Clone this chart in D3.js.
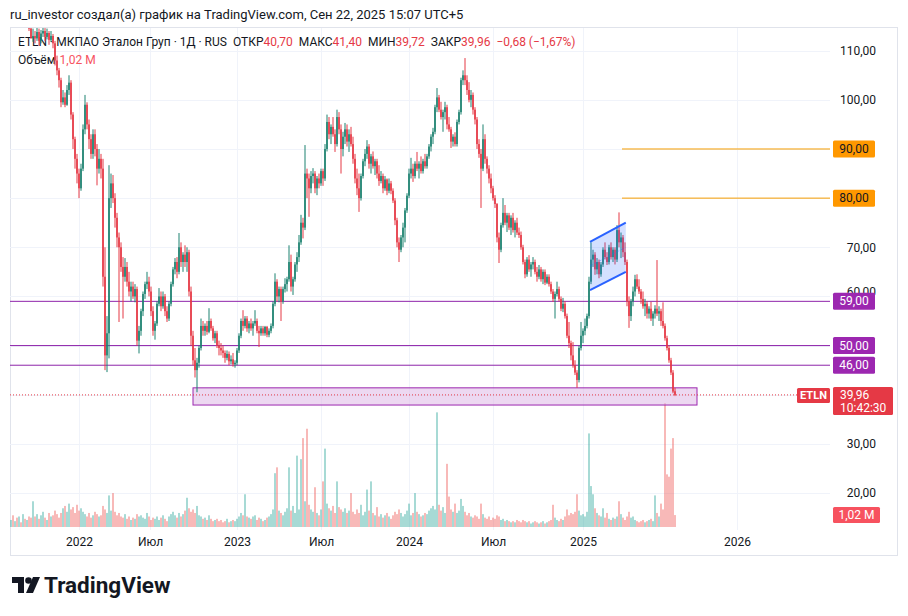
<!DOCTYPE html>
<html>
<head>
<meta charset="utf-8">
<script src="https://cdn.jsdelivr.net/npm/d3@7"></script>
<style>
body { margin: 0; background: #fff; }
text { font-family: Roboto, "Noto Sans", sans-serif; }
</style>
</head>
<body>
<script>
// one candle per ~3 sessions: [open, high, low, close]
const ohlc = [
  [118,120,116.5,119],[119,121,117,117.5],[117.5,119.5,116,118.5],[118.5,120,117,117.2],[117.2,118.5,115.5,118],[118,119,116,116.5],
  [116.5,118,115,117.5],[117.5,118,115.2,115.8],[115.8,117.5,114.8,117],[117,117.5,114,114.5],[114.5,116,112.5,112.5],
  [112.5,114.5,111.8,113],[113,114,111.5,112.5],[112.5,115,112,113.8],[113.8,114.5,111,112],[112,114.2,111.5,113.5],
  [113.5,115,112.8,114],[114,114.6,112,112.8],[112.8,114.5,112.3,113.6],[113.6,114,111.2,112.2],[112.2,114,111.8,113],
  [113,113.4,110.5,111.5],[111.5,112,107,108],[108,109,105,106],[106,106.5,102.5,104],[104,104.5,98.5,99.5],
  [99.5,102,99,100.5],[100.5,101.5,98.5,99],[99,103,98.8,102],[102,105,101,103.5],[103.5,104,96,97],
  [97,97.5,90,92],[92,92.5,86,88],[88,89,83,85],[85,86,80,82],[82,87,81.5,86],
  [86,95,85.5,94],[94,101,93,99],[99,99.5,94,95],[95,96,90,92],[92,93,88,89],
  [89,94,88,93],[93,94,88.5,90],[90,91,82.6,86],[86,90,85,88],[88,89,84,86],
  [86,88,62,64],[64,70,45,48],[48,56,44.6,52.5],[52.5,86.7,47.4,80],[80,85,78,83],
  [83,84.7,79,80],[80,81,74,76],[76,77,70,72],[72,73,54.8,70],[70,71,65,66],
  [66,68,55.5,64],[64,67.8,63,66],[66,67,62,63],[63,65,60,61],[61,63,59,62],
  [62,63,59.5,60],[60,62.5,58.8,61.5],[61.5,62,50,51],[51,54,48.4,53],[53,57.5,52,57],
  [57,61,56,60.5],[60.5,63,59.5,62.5],[62.5,65,61.5,63],[63,64,60,61],[61,62,56,57],
  [57,58,52,53],[53,55,51.2,54.5],[54.5,59,54,58.5],[58.5,61.7,58,60],[60,61,57,58],
  [58,61,57.5,60],[60,60.5,56,57],[57,58,54.8,55.5],[55.5,59,55,58.5],[58.5,63,58,62.5],
  [62.5,66,62,65.5],[65.5,67.8,64.5,67],[67,68,63.7,65],[65,72.9,64.5,70],[70,71,66,67],
  [67,69,65,68.5],[68.5,70.4,66,67],[67,70,65,69],[69,69.5,60,61],[61,62,50,52],
  [52,53,46,47],[47,49.5,43.5,45],[45,47.5,40.5,46.5],[46.5,50,45.5,49.5],[49.5,55.5,49,54],
  [54,55,52,53],[53,54.5,52,54],[54,55,52.2,52.8],[52.8,57.6,52.5,55],[55,55.5,53,53.5],
  [53.5,54,51,51.5],[51.5,53,50.5,52.5],[52.5,53,49.5,50],[50,51,48,49.5],[49.5,50.5,48,49],
  [49,50,47.5,48.5],[48.5,49,46.5,47.5],[47.5,49,47,48.3],[48.3,48.8,46,46.8],[46.8,48,46.2,47.2],
  [47.2,48.5,45.7,46.2],[46.2,47,45.5,46.5],[46.5,49.5,46,49],[49,52.5,48.5,52],[52,55.5,51.5,55],
  [55,57.2,53,54],[54,56,53.5,55.5],[55.5,56,52.8,53.5],[53.5,55,52.5,54.5],[54.5,55.5,53,53.5],
  [53.5,55,52,54.5],[54.5,57.2,54,55],[55,55.5,52.5,53],[53,54,49.7,52.5],[52.5,54,52,53.5],
  [53.5,54,52,52.5],[52.5,54,52,53.8],[53.8,54,51.7,52.2],[52.2,53.5,51.7,53],[53,54.5,52.5,54],
  [54,59,53.5,58.5],[58.5,64.7,58,63],[63,63.5,59,60],[60,62,58.8,61.5],[61.5,62,55,59],
  [59,62,58.5,61.5],[61.5,63.7,60.8,62.5],[62.5,64,61,63.5],[63.5,70.4,63,67],[67,68.5,61,62],
  [62,64,60.3,63.5],[63.5,67,63,66.5],[66.5,69,65,68],[68,72.5,67,71],[71,76.6,70.5,75],
  [75,76,71.8,74],[74,90.8,73.5,85],[85,86,80,84],[84,85,76.2,82],[82,85.5,81,84.5],
  [84.5,86.1,83,85],[85,85.5,81,82],[82,84.5,80.6,84],[84,85,82,83],[83,86,82.5,85.5],
  [85.5,86,82.5,84],[84,91,83.5,90],[90,97,89.5,95.5],[95.5,96.5,92,93],[93,95,91,94.5],
  [94.5,96.5,92.5,93],[93,94,89.4,91],[91,98,90.5,96.5],[96.5,97.5,93,94],[94,95,85,90],
  [90,93.5,88.5,92.5],[92.5,95.3,91,94],[94,95,90.5,91.5],[91.5,94,89.4,93],[93,94.5,90.5,91],
  [91,92.5,87,88],[88,89,83,84],[84,86,80.6,82],[82,85,77.2,80],[80,85,79.5,84.5],
  [84.5,88,84,87.5],[87.5,90,86.5,89],[89,91.8,88,90.5],[90.5,91,86,87],[87,89,85,88.5],
  [88.5,89.5,86,86.5],[86.5,88,84.7,87.5],[87.5,88,84,85],[85,86.7,82.5,83.5],[83.5,85.5,83,84.5],
  [84.5,85,81,82],[82,84.5,81.5,83.8],[83.8,84,80.6,81.5],[81.5,84,81,83],[83,83.5,80.8,81.5],
  [81.5,82,79,79.5],[79.5,80,74.5,75.5],[75.5,76,70,71],[71,72,67,69.5],[69.5,72.5,69,72],
  [72,75,70,74],[74,78,71,77.5],[77.5,81,77,80.5],[80.5,86,80,85],[85,88.2,84,86],
  [86,87,83.3,84.5],[84.5,87.5,84,87],[87,89.4,85.5,86],[86,87.5,84,87],[87,88.5,85,85.5],
  [85.5,88,85,87.5],[87.5,89,86,86.5],[86.5,89,86,88.5],[88.5,91,88,90.5],[90.5,93,89.5,92.5],
  [92.5,94.3,91,93.5],[93.5,99,93,98.5],[98.5,102.4,97.5,100.5],[100.5,101,97.5,98],[98,99.6,96,96.5],
  [96.5,98,93.5,97.5],[97.5,99.6,96,98.5],[98.5,99,94,95],[95,96.5,93.5,94],[94,94.5,90.2,91.5],
  [91.5,93,90.5,92.5],[92.5,93.4,90.5,91],[91,96,90.5,95.5],[95.5,98,95,97.5],[97.5,104.5,97,104],
  [104,106,103,105],[105,108.5,103,104],[104,105,101,102],[102,103.6,99.5,100],[100,102,98.5,101],
  [101,101.5,97,98],[98,98.5,95,96],[96,96.5,90,91],[91,92,88.2,89],[89,90,78,86],
  [86,95,85.5,92],[92,93,87,88],[88,88.5,85,86],[86,86.7,83,84],[84,85,81,82],
  [82,82.5,79.5,80],[80,80.6,78,78.8],[78.8,79,71,72],[72,73,66.8,69.5],[69.5,75,69,74.5],
  [74.5,80,74,77],[77,78.6,74.5,75],[75,77,73.1,76.5],[76.5,77,73.5,74],[74,76.5,72.5,76],
  [76,77,73,73.5],[73.5,75.5,72,75],[75,76,72.5,73],[73,74,71.9,72.5],[72.5,73.2,69.5,70],
  [70,70.5,66.5,67],[67,67.5,63.7,64.5],[64.5,68,64,67.5],[67.5,68.4,65,65.5],[65.5,67,64,66.5],
  [66.5,68,65.5,67],[67,67.5,64.5,65],[65,66,63,64],[64,66.4,63.5,65.5],[65.5,66,63,63.5],
  [63.5,65.5,62.5,65],[65,65.5,62.3,62.8],[62.8,64.5,62.5,64],[64,64.5,62,62.5],[62.5,63,60.5,61],
  [61,61.5,58.9,59.5],[59.5,61,55.5,60.5],[60.5,63,60,61.5],[61.5,62,59,59.5],[59.5,60,57,57.5],
  [57.5,59.7,56.8,58.5],[58.5,59,55.5,56],[56,56.5,51.5,52],[52,54.8,49.5,50.5],[50.5,51,47,48],
  [48,50.7,45.5,46],[46,47,44,44.5],[44.5,45,41.4,43],[43,50,42.5,49.5],[49.5,54.8,49,52],
  [52,53.5,50.5,53],[53,55.5,52.1,54],[54,56.5,53.5,56],[56,64,55.5,63],[63,71,62.5,67.5],
  [67.5,69.5,66,68.5],[68.5,69,64.4,65.5],[65.5,67.8,64.5,67],[67,67.5,63.7,64.5],[64.5,67,64,66.5],
  [66.5,70,66,69.5],[69.5,71,67.5,68],[68,69,66.4,67],[67,70.5,66.5,70],[70,71,67.5,68],
  [68,70,67,69.5],[69.5,70,66.5,67.5],[67.5,74.5,67,73.5],[73.5,77.1,70,71],[71,73,67.8,72],
  [72,72.5,68,69],[69,71,66.4,67],[67,67.5,58,59],[59,60,53.6,56],[56,59.5,55,59],
  [59,62,58,61],[61,64.4,60,63.5],[63.5,64.5,61.5,62],[62,63.5,60.5,61],[61,61.5,58.5,59.5],
  [59.5,61,57.5,58],[58,59.5,56,58.5],[58.5,59,55.5,56.5],[56.5,58,55.5,57.5],[57.5,58.9,55,55.5],
  [55.5,57,54,56.5],[56.5,58.2,55.5,57.5],[57.5,67.4,56,56.5],[56.5,58,55,57],[57,57.5,54,55],
  [55,58.8,53.5,54],[54,54.5,51,51.5],[51.5,52,49,49.5],[49.5,50,46.5,47],[47,47.5,44,44.5],
  [44.5,45,40.3,40.64],[40.70,41.40,39.72,39.96]
];

// volume, millions, same bars
const volume = [
  0.6,1.0,0.5,0.8,0.9,0.4,1.1,0.7,0.6,0.9,0.8,
  2.2,0.9,1.1,0.7,1.0,1.3,0.8,0.6,1.2,0.9,1.0,1.4,1.1,0.8,1.2,1.6,1.8,1.3,2.0,1.5,
  1.7,1.2,1.9,1.4,1.6,1.3,1.1,0.9,1.2,0.8,1.0,1.3,1.1,0.9,1.0,1.8,1.5,1.2,2.7,1.4,
  2.9,1.3,1.0,1.2,0.9,0.8,1.1,0.7,0.9,0.6,0.8,0.7,1.1,0.9,1.0,0.8,0.7,1.2,0.9,0.6,
  0.8,0.7,0.9,0.6,0.8,1.0,0.7,0.5,0.9,1.1,1.3,1.0,0.8,1.2,0.9,1.1,1.4,2.5,1.6,1.3,
  1.5,1.2,1.8,1.0,0.9,0.7,0.8,0.6,1.0,0.7,0.5,0.6,0.7,0.5,0.6,0.4,0.5,0.7,0.4,0.5,
  0.6,0.5,0.7,0.9,1.2,1.0,2.8,0.9,0.8,0.7,0.9,1.0,0.6,0.8,0.7,0.5,0.6,0.8,0.9,1.1,
  1.5,4.6,5.1,1.4,1.2,1.0,1.3,1.6,5.1,1.4,1.8,1.2,6.1,1.5,5.8,7.6,2.2,8.4,1.9,1.5,
  1.3,3.4,1.2,1.0,1.5,3.9,6.7,2.0,1.6,1.4,1.8,1.2,3.9,1.7,1.5,1.3,1.6,1.2,1.4,2.9,
  1.3,1.1,1.5,1.2,1.9,1.0,1.3,3.2,1.4,3.9,1.2,1.0,1.7,0.9,1.1,0.8,1.0,1.2,0.9,0.7,
  1.0,1.3,1.1,1.5,1.2,0.9,1.1,1.4,2.0,1.0,1.2,2.9,1.3,1.1,0.9,1.0,1.2,1.1,1.4,1.6,
  1.8,1.5,9.8,1.9,1.4,1.7,1.2,5.4,2.6,1.5,1.3,2.0,1.2,1.4,2.4,1.8,1.3,1.0,1.2,0.9,
  0.8,1.0,0.9,0.7,2.0,1.1,0.8,0.7,0.9,0.6,0.8,0.7,1.0,0.9,0.6,0.7,0.5,0.6,0.5,0.4,
  0.5,0.4,0.6,0.5,0.4,0.6,0.5,0.4,0.5,0.3,0.4,0.5,0.4,0.3,0.4,0.5,0.3,0.4,0.5,0.6,
  1.9,0.8,0.6,0.5,0.7,0.6,0.9,1.5,1.0,1.2,1.1,1.3,2.8,1.4,1.0,1.1,0.9,1.3,8.0,3.5,
  2.8,1.6,1.2,1.0,0.9,1.6,0.8,1.2,0.7,0.6,0.8,0.7,0.9,2.2,1.1,0.8,0.6,0.9,1.3,0.8,
  0.9,0.6,0.5,0.4,0.5,0.6,0.4,0.5,0.6,0.7,0.5,2.7,1.2,0.9,2.0,1.5,10.6,4.5,4.3,6.7,7.6,1.02
];

// time axis: bar index where each label sits
const timeTicks = [34, 69.5, 113, 155, 199, 241, 286, 363];
const timeLabels = ["2022", "Июл", "2023", "Июл", "2024", "Июл", "2025", "2026"];
const priceTicks = [20, 30, 40, 50, 60, 70, 80, 90, 100, 110];

// drawings
const supportLevels = [59, 50, 46];
const targetLevels = [90, 80];
const targetStartBar = 305.5;
const zonePrices = [37.9, 41.4];
const zoneBars = [91, 343];
const channelBars = [289.5, 307.4];
const channelUpper = [71.1, 75.0];
const channelLower = [61.3, 65.0];

const lastBar = { open: "40,70", high: "41,40", low: "39,72", close: 39.96, change: "−0,68 (−1,67%)", vol: "1,02 M", timer: "10:42:30" };

function main(){
    const W = 908, H = 616;
    const upColor = "#1d8270", downColor = "#e53945";
    const textColor = "#131722";
    const fmt = d => d3.format(".2f")(d).replace(".", ",");

    const svg = d3.select("body").append("svg")
        .attr("width", W)
        .attr("height", H);

    svg.append("rect").attr("width", W).attr("height", H).attr("fill", "#fff");

    // header
    svg.append("text")
        .attr("x", 10).attr("y", 19)
        .attr("font-size", "13px")
        .attr("fill", textColor)
        .text("ru_investor создал(а) график на TradingView.com, Сен 22, 2025 15:07 UTC+5");

    // frame
    svg.append("rect")
        .attr("x", 10.5).attr("y", 27.5)
        .attr("width", 887).attr("height", 528)
        .attr("fill", "none")
        .attr("stroke", "#e0e3eb");

    const x = d3.scaleLinear().domain([0, ohlc.length - 1]).range([11, 675]);
    const y = d3.scaleLinear().domain([20, 110]).range([493, 50.7]);
    const yv = d3.scaleLinear().domain([0, d3.max(volume)]).range([527, 403]);

    svg.append("clipPath").attr("id", "pane")
        .append("rect").attr("x", 10).attr("y", 28).attr("width", 820).attr("height", 502);

    // grid
    const grid = svg.append("g").attr("clip-path", "url(#pane)");
    grid.selectAll(".hg").data(priceTicks).join("line")
        .attr("x1", 10).attr("x2", 830)
        .attr("y1", d => Math.round(y(d)) + 0.5).attr("y2", d => Math.round(y(d)) + 0.5)
        .attr("stroke", "#f0f3fa");
    grid.selectAll(".vg").data(timeTicks).join("line")
        .attr("x1", d => Math.round(x(d)) + 0.5).attr("x2", d => Math.round(x(d)) + 0.5)
        .attr("y1", 28).attr("y2", 530)
        .attr("stroke", "#f0f3fa");

    // legend
    const leg = svg.append("text")
        .attr("x", 18).attr("y", 46)
        .attr("font-size", "12px")
        .attr("fill", textColor);
    leg.append("tspan").text("ETLN · МКПАО Эталон Груп · 1Д · RUS");
    const pairs = [["ОТКР", lastBar.open], ["МАКС", lastBar.high], ["МИН", lastBar.low], ["ЗАКР", fmt(lastBar.close)]];
    pairs.forEach(p => {
        leg.append("tspan").attr("dx", 6).text(p[0]);
        leg.append("tspan").attr("fill", downColor).text(p[1]);
    });
    leg.append("tspan").attr("dx", 6).attr("fill", downColor).text(lastBar.change);

    const vleg = svg.append("text")
        .attr("x", 18).attr("y", 64)
        .attr("font-size", "12px")
        .attr("fill", textColor);
    vleg.append("tspan").text("Объём");
    vleg.append("tspan").attr("dx", 4).attr("fill", "#f7525f").text(lastBar.vol);

    const pane = svg.append("g").attr("clip-path", "url(#pane)");

    // volume
    pane.append("g").selectAll("rect").data(ohlc).join("rect")
        .attr("x", (d, i) => x(i) - 0.8)
        .attr("width", 1.6)
        .attr("y", (d, i) => yv(volume[i]))
        .attr("height", (d, i) => 527 - yv(volume[i]))
        .attr("fill", d => d[3] >= d[0] ? "#26a69a" : "#ef5350")
        .attr("opacity", 0.5);

    // support zone
    pane.append("rect")
        .attr("x", x(zoneBars[0])).attr("width", x(zoneBars[1]) - x(zoneBars[0]))
        .attr("y", y(zonePrices[1])).attr("height", y(zonePrices[0]) - y(zonePrices[1]))
        .attr("fill", "rgba(225,190,231,0.6)")
        .attr("stroke", "#9c27b0").attr("stroke-width", 1);

    // horizontal levels
    pane.selectAll(".sup").data(supportLevels).join("line")
        .attr("x1", 10).attr("x2", 833)
        .attr("y1", d => y(d)).attr("y2", d => y(d))
        .attr("stroke", "#8e24aa").attr("stroke-width", 1);
    pane.selectAll(".tgt").data(targetLevels).join("line")
        .attr("x1", x(targetStartBar)).attr("x2", 833)
        .attr("y1", d => y(d)).attr("y2", d => y(d))
        .attr("stroke", "#f59d00").attr("stroke-width", 1);

    // last price line
    pane.append("line")
        .attr("x1", 10).attr("x2", 797)
        .attr("y1", y(lastBar.close)).attr("y2", y(lastBar.close))
        .attr("stroke", downColor).attr("stroke-dasharray", "1,2");

    // candles
    const candles = pane.append("g").selectAll("g").data(ohlc).join("g")
        .attr("stroke", d => d[3] >= d[0] ? upColor : downColor)
        .attr("fill", d => d[3] >= d[0] ? upColor : downColor);
    candles.append("line")
        .attr("x1", (d, i) => x(i)).attr("x2", (d, i) => x(i))
        .attr("y1", d => y(d[1])).attr("y2", d => y(d[2]))
        .attr("stroke-width", 1);
    candles.append("rect")
        .attr("x", (d, i) => x(i) - 0.8)
        .attr("width", 1.6)
        .attr("y", d => y(Math.max(d[0], d[3])))
        .attr("height", d => Math.max(0.8, Math.abs(y(d[0]) - y(d[3]))))
        .attr("stroke", "none");

    // parallel channel
    const cx0 = x(channelBars[0]), cx1 = x(channelBars[1]);
    pane.append("polygon")
        .attr("points", [[cx0, y(channelUpper[0])], [cx1, y(channelUpper[1])], [cx1, y(channelLower[1])], [cx0, y(channelLower[0])]].join(" "))
        .attr("fill", "rgba(41,98,255,0.2)");
    pane.append("line")
        .attr("x1", cx0).attr("x2", cx1)
        .attr("y1", y((channelUpper[0] + channelLower[0]) / 2)).attr("y2", y((channelUpper[1] + channelLower[1]) / 2))
        .attr("stroke", "rgba(41,98,255,0.35)").attr("stroke-dasharray", "3,2");
    [channelUpper, channelLower].forEach(c => {
        pane.append("line")
            .attr("x1", cx0).attr("x2", cx1)
            .attr("y1", y(c[0])).attr("y2", y(c[1]))
            .attr("stroke", "#2962ff").attr("stroke-width", 2);
    });

    // price axis (values hidden behind the level tags are not drawn)
    const hidden = [90, 80, 50, 40];
    const yAxis = svg.append("g")
        .attr("transform", "translate(876,0)")
        .call(d3.axisRight(y).tickValues(priceTicks.filter(d => !hidden.includes(d))).tickSize(0).tickFormat(fmt));
    yAxis.select(".domain").remove();
    yAxis.selectAll("text")
        .attr("x", 0).attr("text-anchor", "end")
        .attr("font-size", "12px")
        .attr("font-family", "Roboto, sans-serif")
        .attr("fill", textColor);
    // 60,00 peeks out above the 59 tag
    yAxis.selectAll(".tick").filter(d => d === 60).select("text").attr("dy", "-0.1em");

    // time axis
    const xAxis = svg.append("g")
        .attr("transform", "translate(0,534)")
        .call(d3.axisBottom(x).tickValues(timeTicks).tickSize(0).tickFormat((d, i) => timeLabels[i]));
    xAxis.select(".domain").remove();
    xAxis.selectAll("text")
        .attr("font-size", "12px")
        .attr("font-family", "Roboto, sans-serif")
        .attr("fill", textColor);

    // price labels on the axis
    function tag(yc, label, fill, color, h){
        svg.append("rect")
            .attr("x", 833).attr("y", yc - h / 2)
            .attr("width", 42).attr("height", h)
            .attr("rx", 1.5)
            .attr("fill", fill);
        svg.append("text")
            .attr("x", 854).attr("y", yc + 4)
            .attr("text-anchor", "middle")
            .attr("font-size", "12px")
            .attr("fill", color)
            .text(label);
    }
    targetLevels.forEach(v => tag(y(v), fmt(v), "#ff9800", textColor, 17));
    supportLevels.forEach(v => tag(y(v), fmt(v), "#9c27b0", "#fff", 17));

    // last price tags
    const ly = y(lastBar.close);
    svg.append("rect").attr("x", 797).attr("y", ly - 7).attr("width", 33).attr("height", 15)
        .attr("rx", 1.5).attr("fill", downColor);
    svg.append("text").attr("x", 813.5).attr("y", ly + 4.5).attr("text-anchor", "middle")
        .attr("font-size", "11px").attr("font-weight", 700).attr("fill", "#fff").text("ETLN");
    svg.append("rect").attr("x", 833).attr("y", ly - 8).attr("width", 60).attr("height", 28)
        .attr("rx", 1.5).attr("fill", downColor);
    svg.append("text").attr("x", 840).attr("y", ly + 4).attr("font-size", "12px").attr("fill", "#fff").text(fmt(lastBar.close));
    svg.append("text").attr("x", 840).attr("y", ly + 17).attr("font-size", "12px").attr("fill", "#fff").text(lastBar.timer);

    const vy = yv(volume[volume.length - 1]);
    svg.append("rect").attr("x", 833).attr("y", vy - 8).attr("width", 47).attr("height", 16)
        .attr("rx", 1.5).attr("fill", "#f7525f");
    svg.append("text").attr("x", 856.5).attr("y", vy + 4).attr("text-anchor", "middle")
        .attr("font-size", "12px").attr("fill", "#fff").text(lastBar.vol);

    // logo
    const logo = svg.append("g").attr("fill", "#131722");
    logo.append("path").attr("d", "M12,577 h12 v16 h-6 v-10 h-6 z");
    logo.append("circle").attr("cx", 28.5).attr("cy", 580.5).attr("r", 3.3);
    logo.append("path").attr("d", "M33,577 h7 l-7,16 h-7 z");
    svg.append("text")
        .attr("x", 44).attr("y", 593)
        .attr("font-size", "22.5px")
        .attr("font-weight", 700)
        .attr("fill", "#131722")
        .text("TradingView");
}
main();
</script>
</body>
</html>
